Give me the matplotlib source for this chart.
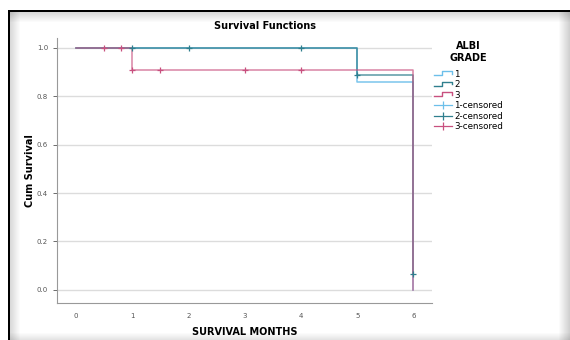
import matplotlib
matplotlib.use("Agg")
import matplotlib.pyplot as plt
from matplotlib.lines import Line2D
from matplotlib.patches import Rectangle
from matplotlib.legend_handler import HandlerBase

# survival step data per ALBI grade
g1_t = [0, 5, 6]
g1_s = [1.0, 0.857, 0.0]
g2_t = [0, 5, 6]
g2_s = [1.0, 0.889, 0.066]
g3_t = [0, 1, 6]
g3_s = [1.0, 0.909, 0.0]

# censored observations
c2_t = [1.0, 2.0, 4.0, 5.0, 6.0]
c2_s = [1.0, 1.0, 1.0, 0.889, 0.066]
c3_t = [0.5, 0.8, 1.0, 1.5, 3.0, 4.0]
c3_s = [1.0, 1.0, 0.909, 0.909, 0.909, 0.909]

x_ticks = [0, 1, 2, 3, 4, 5, 6]
y_ticks = [0.0, 0.2, 0.4, 0.6, 0.8, 1.0]
labels = ["1", "2", "3", "1-censored", "2-censored", "3-censored"]

c_blue = "#6cbfea"
c_teal = "#2f7f8e"
c_pink = "#c8507f"

W, H = 570, 340
fig = plt.figure(figsize=(W / 100, H / 100), dpi=100)
fig.patch.set_facecolor("white")


def px(x0, y0, w, h, **kw):
    # rectangle in pixel coords, y measured from top
    fig.patches.append(Rectangle((x0 / W, 1 - (y0 + h) / H), w / W, h / H,
                                 transform=fig.transFigure, lw=0, **kw))


# screenshot frame with soft shadow
for i in range(10):
    a = 0.25 * (1 - i / 10)
    px(10 + i, 12, 1, H - 12, color="black", alpha=a * 0.6)
    px(10, 12 + i, W - 10, 1, color="black", alpha=a * 0.6)
for i in range(12):
    a = 0.2 * (i / 12)
    px(W - 12 + i, 12, 1, H - 12, color="black", alpha=a)
for i in range(8):
    a = 0.12 * (i / 8)
    px(10, H - 8 + i, W - 10, 1, color="black", alpha=a)
px(8, 10, 2.2, H - 10, color="black")
px(8, 10, W - 8, 2.2, color="black")

ax = fig.add_axes([57 / W, 1 - 303 / H, (432 - 57) / W, (303 - 38) / H])
ax.set_xlim(-0.34, 6.33)
ax.set_ylim(-0.054, 1.04)
for s in ["top", "right"]:
    ax.spines[s].set_visible(False)
for s in ["left", "bottom"]:
    ax.spines[s].set_color("#999999")
    ax.spines[s].set_linewidth(0.8)

ax.set_yticks(y_ticks)
ax.set_yticklabels([f"{v:.1f}" for v in y_ticks])
ax.set_xticks(x_ticks)
ax.tick_params(axis="both", labelsize=5, colors="#555555", length=3, width=0.6)
ax.tick_params(axis="x", length=0, pad=7)
ax.grid(axis="y", color="#dcdcdc", lw=1)
ax.set_axisbelow(True)

ax.step(g1_t, g1_s, where="post", color=c_blue, lw=1.1, alpha=0.9)
ax.step(g2_t, g2_s, where="post", color=c_teal, lw=1.1, alpha=0.8)
ax.step(g3_t, g3_s, where="post", color=c_pink, lw=1.1, alpha=0.7)
ax.plot(c2_t, c2_s, ls="none", marker="+", ms=5, mew=0.9, color=c_teal)
ax.plot(c3_t, c3_s, ls="none", marker="+", ms=5, mew=0.9, color=c_pink)

ax.set_xlabel("SURVIVAL MONTHS", fontsize=7, fontweight="bold", labelpad=6)
ax.set_ylabel("Cum Survival", fontsize=7, fontweight="bold", labelpad=1)
fig.text(265 / W, 1 - 26 / H, "Survival Functions", ha="center", va="center",
         fontsize=7, fontweight="bold")


class StepHandler(HandlerBase):
    def create_artists(self, legend, orig, xd, yd, w, h, fs, trans):
        xs = [xd, xd + 0.45 * w, xd + 0.45 * w, xd + w, xd + w]
        ys = [yd + 0.25 * h, yd + 0.25 * h, yd + 0.85 * h, yd + 0.85 * h, yd + 0.45 * h]
        ln = Line2D(xs, ys, color=orig.get_color(), lw=1.0, transform=trans)
        return [ln]


h_steps = [Line2D([], [], color=c) for c in (c_blue, c_teal, c_pink)]
h_cens = [Line2D([], [], color=c, lw=0.9, marker="|", ms=6, mew=0.9)
          for c in (c_blue, c_teal, c_pink)]
hmap = {h: StepHandler() for h in h_steps}
leg = fig.legend(h_steps + h_cens, labels, loc="upper left",
                 bbox_to_anchor=(428 / W, 1 - 35 / H), frameon=False,
                 fontsize=6.3, title="ALBI\nGRADE", handler_map=hmap,
                 handlelength=2.0, handletextpad=0.3, labelspacing=0.17,
                 numpoints=1, borderpad=0.2, alignment="center")
leg.get_title().set_fontsize(7)
leg.get_title().set_fontweight("bold")
leg.get_title().set_multialignment("center")
leg._legend_box.sep = 5

fig.savefig("out.png", dpi=100)
